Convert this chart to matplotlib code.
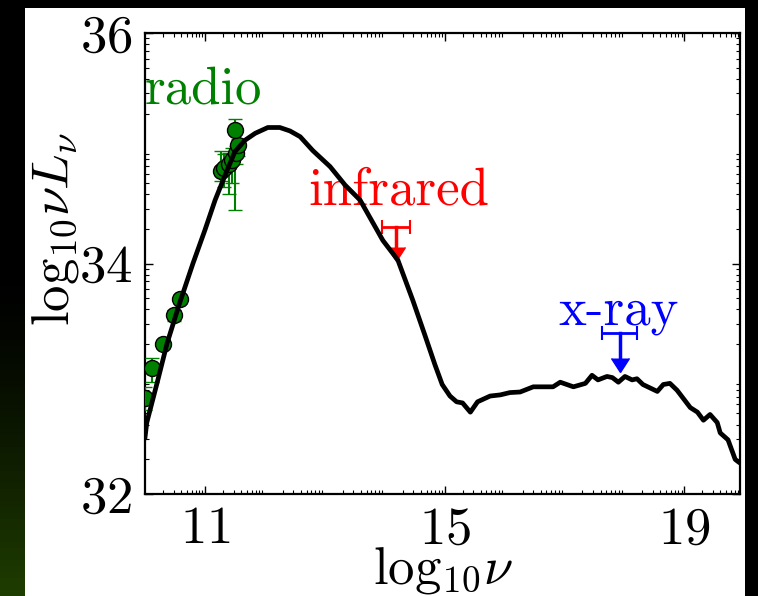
import numpy as np
import matplotlib
matplotlib.use('Agg')
import matplotlib.pyplot as plt
from matplotlib.patches import Rectangle
from matplotlib.ticker import FixedLocator
from matplotlib import markers

plt.rcParams['font.family'] = 'cmr10'
plt.rcParams['mathtext.fontset'] = 'cm'
plt.rcParams['axes.formatter.use_mathtext'] = True

# model SED: log10(nu) vs log10(nu L_nu)
sed_x = [10.0, 10.03, 10.2, 10.37, 10.58, 10.8, 11.0, 11.17, 11.34, 11.5,
         11.67, 11.84, 12.05, 12.25, 12.42, 12.59, 12.8, 13.09, 13.34, 13.59,
         13.97, 14.22, 14.47, 14.67, 14.84, 14.96, 15.09, 15.2, 15.3, 15.43,
         15.55, 15.76, 15.93, 16.09, 16.26, 16.48, 16.81, 16.93, 17.15, 17.35,
         17.46, 17.56, 17.71, 17.80, 17.90, 18.01, 18.13, 18.21, 18.31, 18.55,
         18.65, 18.76, 18.88, 19.10, 19.22, 19.32, 19.43, 19.55, 19.60, 19.73,
         19.85, 19.90]
sed_y = [32.49, 32.62, 32.96, 33.31, 33.66, 34.0, 34.29, 34.55, 34.77, 34.97,
         35.07, 35.13, 35.18, 35.18, 35.15, 35.1, 34.98, 34.84, 34.68, 34.55,
         34.2, 34.03, 33.68, 33.38, 33.12, 32.95, 32.85, 32.80, 32.79, 32.71,
         32.80, 32.85, 32.86, 32.88, 32.885, 32.93, 32.93, 32.97, 32.93, 32.96,
         33.03, 32.99, 33.02, 33.01, 32.97, 33.02, 32.99, 33.0, 32.95, 32.89,
         32.95, 32.96, 32.9, 32.75, 32.71, 32.64, 32.69, 32.62, 32.53, 32.47,
         32.30, 32.28]

# radio detections
radio_x = [10.0, 10.12, 10.3, 10.48, 10.58, 11.27, 11.32, 11.40, 11.45, 11.52, 11.55, 11.50]
radio_y = [32.83, 33.09, 33.3, 33.55, 33.69, 34.80, 34.83, 34.86, 34.90, 34.96, 35.03, 35.16]
radio_elo = [0.10, 0.12, 0.03, 0.05, 0.03, 0.08, 0.17, 0.26, 0.20, 0.10, 0.10, 0.70]
radio_ehi = [0.10, 0.09, 0.03, 0.05, 0.03, 0.18, 0.12, 0.10, 0.10, 0.06, 0.05, 0.09]

# upper limits: centre, half width in x, arrow length
ir_x, ir_y, ir_xerr, ir_drop = 14.19, 34.32, 0.23, 0.18
xray_x, xray_y, xray_xerr, xray_drop = 17.92, 33.40, 0.29, 0.22

W, H = 758, 596
fig = plt.figure(figsize=(W / 100, H / 100), dpi=100, facecolor='black')

# slide background: dark strip with a green glow, white panel for the plot
bg = fig.add_axes([0, 0, 25 / W, 1])
grad = np.zeros((100, 1, 3))
t = np.clip((np.linspace(0, 1, 100) - 0.45) / 0.55, 0, 1) ** 1.4
grad[:, 0, 0] = 0.12 * t
grad[:, 0, 1] = 0.24 * t
bg.imshow(grad, aspect='auto', extent=[0, 1, 0, 1])
bg.axis('off')
fig.patches.append(Rectangle((25 / W, 0), 720 / W, 588 / H, transform=fig.transFigure,
                             facecolor='white', edgecolor='none', zorder=-1))

ax = fig.add_axes([145 / W, 1 - 494 / H, 595 / W, 461 / H])
ax.set_zorder(2)
ax.set_facecolor('white')

ax.errorbar(radio_x, radio_y, yerr=[radio_elo, radio_ehi], fmt='o', color='green',
            ecolor='green', elinewidth=1.5, capsize=5, capthick=1.5,
            ms=11.5, mfc='green', mec='black', mew=1, zorder=3)

for x0, y0, xe, dr, c in [(ir_x, ir_y, ir_xerr, ir_drop, 'red'),
                          (xray_x, xray_y, xray_xerr, xray_drop, 'blue')]:
    ax.errorbar([x0], [y0], xerr=xe, fmt='none', ecolor=c, elinewidth=2,
                capsize=5, capthick=1.5, zorder=3)
    ax.plot([x0, x0], [y0, y0 - dr], color=c, lw=2.5, zorder=3)
    ax.plot([x0], [y0 - dr], marker=markers.CARETDOWNBASE, ms=13, color=c, zorder=3)

ax.plot(sed_x, sed_y, color='black', lw=3.4, zorder=5)

ax.text(10.0, 35.39, 'radio', color='green', fontsize=38)
ax.text(12.72, 34.51, 'infrared', color='red', fontsize=38)
ax.text(16.9, 33.47, 'x-ray', color='blue', fontsize=38)

ax.set_xlim(10, 19.93)
ax.set_ylim(32, 36)
ax.set_xticks([11, 15, 19])
ax.set_yticks([32, 34, 36])
ks = np.log10(np.arange(2, 10))
ax.xaxis.set_minor_locator(FixedLocator([n + k for n in range(10, 20) for k in ks]))
ax.yaxis.set_minor_locator(FixedLocator([n + k for n in range(32, 36) for k in ks]))
ax.tick_params(which='both', direction='in', top=True, right=True, labelsize=38)
ax.tick_params(which='major', length=6, width=1, pad=9)
ax.tick_params(which='minor', length=3, width=0.8)
for s in ax.spines.values():
    s.set_linewidth(1.6)

ax.set_xlabel(r'$\mathrm{log}_{10}\nu$', fontsize=38, labelpad=-6)
ax.set_ylabel(r'$\mathrm{log}_{10}\nu L_\nu$', fontsize=38)
ax.yaxis.set_label_coords(-0.107, 0.575)

fig.savefig('out.png', dpi=100, facecolor=fig.get_facecolor())
